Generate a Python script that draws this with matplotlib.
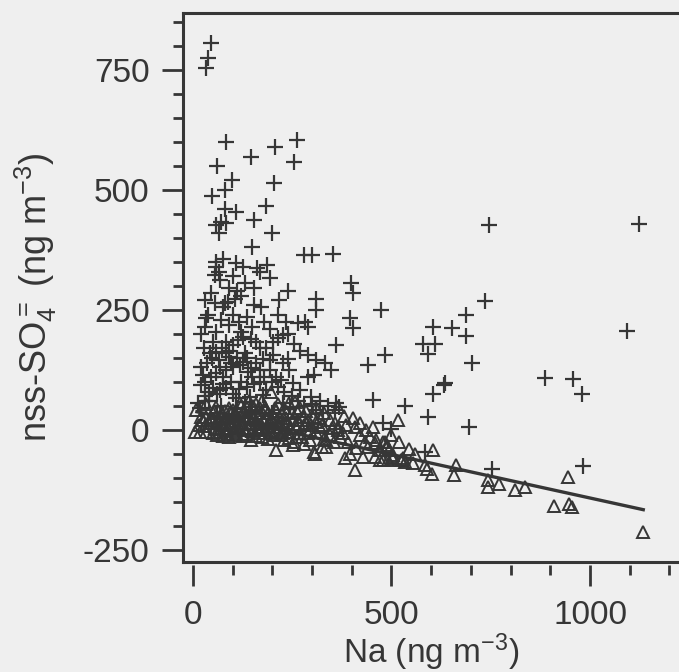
import matplotlib
matplotlib.use("Agg")
import matplotlib.pyplot as plt
from matplotlib.ticker import MultipleLocator

# ---------------- data ----------------
cross_x = [46, 38, 33,
           84, 262, 207, 147, 255, 60, 99, 204, 82, 48, 184, 82, 109, 153, 58, 71, 84, 65, 198, 150,
           280, 300, 353, 58, 75, 58, 109, 126, 162, 187,
           55, 67, 130, 193, 155, 92, 105, 80, 76, 88, 55, 155, 172, 218, 311, 309, 399, 403, 474,
           38, 34, 214, 235, 264, 281, 290, 395, 403, 92, 59, 122, 126, 50, 84, 101, 113, 160, 168,
           202, 214, 227, 361, 42, 59, 84, 92, 130, 126, 176, 193, 202, 227, 239, 290, 311, 332, 348,
           483, 441, 21, 25, 21, 67, 59, 76, 84, 139, 101, 193, 210, 222, 243, 252, 290, 306, 269,
           50, 67, 84, 101, 109, 143, 130, 13, 17, 298, 453, 533, 361, 369, 357, 185, 176, 227, 244,
           311, 327, 479, 499,
           40, 70, 110, 150, 200, 100, 160, 30, 130, 60,
           30, 45, 35, 48, 28, 65, 72, 90, 95, 110, 118, 135, 145, 160, 170, 180, 150, 120, 95, 75,
           60, 40, 30, 115, 135, 155, 170, 200, 215, 230, 250, 265, 280, 300, 320, 340, 20, 30, 70,
           100, 115, 135, 150, 180, 195, 240, 255, 270, 185, 145, 30, 45, 110, 120, 65, 100, 240, 170,
           746, 1123, 736, 688, 605, 652, 688, 580, 610, 593, 702, 887, 958, 979, 635, 631, 604,
           1094, 593, 694, 752, 982, 584]
cross_y = [806, 775, 754,
           600, 605, 590, 569, 559, 550, 522, 515, 501, 488, 467, 460, 455, 437, 427, 434, 432, 410, 411, 381,
           365, 365, 367, 351, 356, 340, 347, 339, 337, 344,
           323, 313, 307, 316, 295, 295, 274, 264, 257, 267, 264, 260, 257, 271, 274, 250, 306, 286, 250,
           240, 233, 240, 226, 222, 226, 215, 233, 212, 219, 205, 205, 194, 184, 184, 177, 188, 184, 170,
           184, 191, 198, 177, 160, 163, 160, 153, 160, 142, 149, 146, 156, 139, 149, 156, 146, 139, 125,
           156, 135, 132, 115, 94, 132, 118, 111, 125, 121, 132, 125, 111, 104, 125, 97, 111, 115, 83,
           87, 83, 87, 76, 66, 69, 59, 56, 45, 69, 63, 50, 56, 49, 42, 83, 73, 56, 49,
           42, 35, 14, 3,
           60, 50, 45, 40, 35, 20, 10, 70, 25, 35,
           100, 110, 140, 150, 170, 145, 170, 165, 140, 150, 135, 150, 130, 140, 125, 110, 110, 100, 100, 95,
           75, 80, 60, 85, 90, 95, 100, 100, 90, 80, 70, 60, 50, 55, 60, 50, 200, 215, 230,
           240, 225, 235, 215, 225, 210, 200, 180, 165, 170, 190, 270, 285, 290, 280, 330, 320, 290, 330,
           427, 429, 269, 240, 215, 213, 196, 179, 179, 158, 140, 108, 106, 76, 97, 94, 75,
           206, 28, 7, -82, -76, -45]

tri_x = [8, 34, 59, 101, 118, 151, 181, 243, 256, 269, 365, 197,
         21, 34, 50, 67, 84, 109, 126, 140, 151, 168, 189, 205, 225, 277, 290, 302, 320, 344, 403,
         40, 60, 76, 95, 109, 120, 140, 164, 180, 193, 210, 230, 260, 311, 319, 357, 365, 407, 453, 516,
         4, 17, 34, 50, 67, 84, 100, 118, 134, 150, 165, 181, 197, 215, 240, 269, 290, 378, 344, 366,
         92, 125, 147, 175, 227, 243, 260, 274, 294, 330, 433, 479, 483, 445,
         210, 252, 306, 336, 324, 307, 411, 395, 383, 428, 409, 458, 470, 488, 488, 458, 471, 492,
         505, 495, 504, 525, 530, 534, 554, 479, 501, 526,
         25, 45, 55, 70, 80, 90, 100, 115, 130, 135, 145, 160, 170, 175, 185, 200, 210, 220, 235, 245,
         250, 265, 280, 295, 310, 325, 335, 350, 355, 370, 385, 390, 420, 440, 460, 60, 75, 105, 160,
         190, 205, 230, 255, 280, 120, 140, 160, 175, 215, 230, 285, 310, 330, 380, 420, 435, 500, 520,
         545, 560,
         15, 30, 48, 62, 78, 88, 97, 112, 123, 138, 155, 172, 186, 196, 212, 226, 238, 252, 266, 284,
         298, 52, 72, 94, 128, 158, 182, 206, 236, 262, 86, 108, 134, 166, 194, 222,
         605, 584, 590, 601, 663, 658, 744, 744, 772, 811, 835, 944, 908, 947, 954, 1134]
tri_y = [42, 55, 49, 42, 56, 50, 42, 56, 59, 45, 49, 80,
         28, 28, 35, 30, 25, 33, 38, 30, 28, 35, 35, 28, 32, 28, 21, 28, 25, 21, 24,
         15, 18, 10, 14, 7, 15, 12, 7, 16, 14, 7, 12, 7, 17, 7, 14, 7, 7, 7, 21,
         -4, -4, -4, -7, -4, 0, -2, 2, 0, -3, 0, 0, -7, -3, -5, -7, -7, -7, -10, 0,
         -14, -12, -21, -15, -7, -17, -14, -14, -21, -18, -24, -24, -24, -14,
         -42, -31, -45, -35, -35, -49, -38, -49, -59, -56, -83, -28, -42, -31, -35, -56, -62, -62,
         -59, -42, -52, -62, -59, -66, -69, -62, -56, -62,
         20, 25, 5, 15, 40, 45, 30, 20, 25, 45, 15, 20, 45, 5, 25, 20, 40, 15, 25, 5,
         35, 20, 10, 0, -5, 10, -20, 5, -25, -15, 10, -25, -10, -35, -20, -10, -12, -10, -12,
         -18, -10, -20, -25, -30, 50, 60, 55, 60, 55, 45, 40, 45, 35, 30, 15, 0, -10, -25,
         -40, -50,
         10, 8, 20, 2, 22, 5, 18, 8, 12, 4, 22, 12, 8, 24, 18, 2, 14, 20, 12, 15,
         10, 40, 36, 38, 42, 36, 48, 46, 38, 40, -8, -6, -8, -6, -4, -10,
         -42, -73, -82, -92, -73, -94, -104, -118, -113, -125, -118, -97, -158, -155, -161, -212]

fit_x = [10, 1134]
fit_y = [38, -166]

x_ticks_major = [0, 500, 1000]
y_ticks_major = [-250, 0, 250, 500, 750]

# ---------------- style ----------------
bg = "#efefef"
ink = "#363636"
plt.rcParams["font.family"] = ["Liberation Sans", "DejaVu Sans"]
plt.rcParams["mathtext.fontset"] = "custom"
plt.rcParams["mathtext.rm"] = "Liberation Sans"
plt.rcParams["mathtext.it"] = "Liberation Sans:italic"
plt.rcParams["mathtext.default"] = "regular"
plt.rcParams["axes.unicode_minus"] = False

fig = plt.figure(figsize=(6.79, 6.72), dpi=100, facecolor=bg)
ax = fig.add_axes([0.2695, 0.1637, 0.7305, 0.817])
ax.set_facecolor(bg)

ax.plot(cross_x, cross_y, linestyle="none", marker="+", markersize=11,
        markeredgewidth=1.6, color=ink)
ax.plot(tri_x, tri_y, linestyle="none", marker="^", markersize=9,
        markerfacecolor="none", markeredgewidth=1.4, markeredgecolor=ink)
ax.plot(fit_x, fit_y, color=ink, linewidth=2.4)

ax.set_xlim(-25, 1224)
ax.set_ylim(-275, 869)

ax.xaxis.set_minor_locator(MultipleLocator(100))
ax.yaxis.set_minor_locator(MultipleLocator(50))
ax.set_xticks(x_ticks_major)
ax.set_yticks(y_ticks_major)

ax.spines["right"].set_visible(False)
for s in ["left", "top"]:
    ax.spines[s].set_linewidth(2.2)
    ax.spines[s].set_color(ink)
ax.spines["bottom"].set_position(("outward", 2.5))
ax.spines["bottom"].set_visible(False)
ax.plot([0, 1], [0, 0], transform=ax.transAxes, color=ink, linewidth=2.2,
        clip_on=False, solid_capstyle="projecting")

ax.tick_params(axis="both", which="major", length=15, width=2, color=ink,
               labelsize=24, labelcolor=ink, pad=9)
ax.tick_params(axis="both", which="minor", length=7.5, width=2, color=ink)
ax.tick_params(axis="x", which="major", pad=10)

ax.set_xlabel("Na (ng m$^{-3}$)", fontsize=24, color=ink, labelpad=0)
ax.set_ylabel("nss-SO$_4^=$ (ng m$^{-3}$)", fontsize=26, color=ink)
ax.yaxis.set_label_coords(-0.25, 0.483)

fig.savefig("out.png", dpi=100, facecolor=bg)
